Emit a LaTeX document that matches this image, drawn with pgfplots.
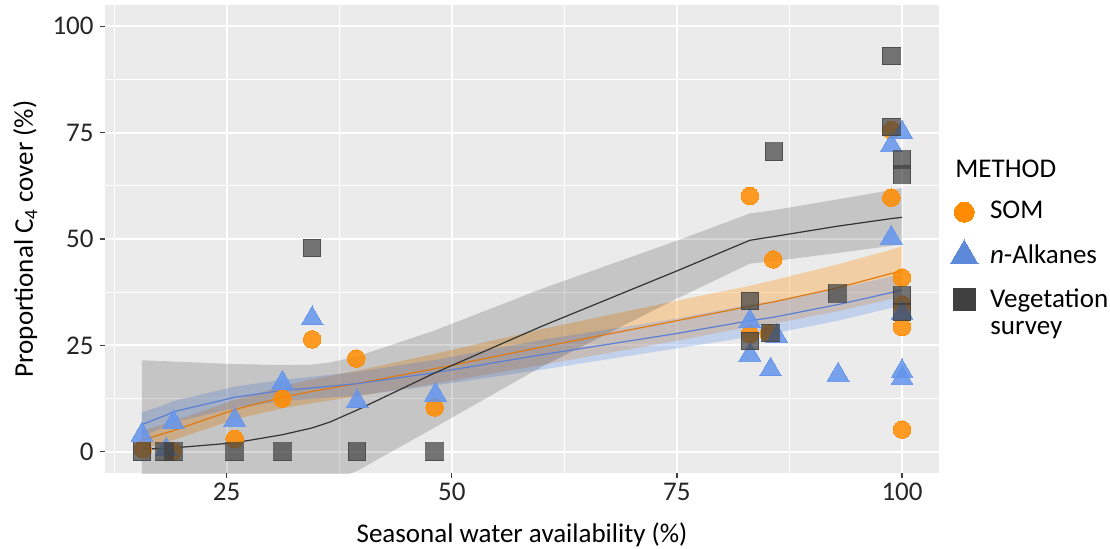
\documentclass[border=0pt]{standalone}
\usepackage{fontspec}
\setmainfont{Carlito}
\usepackage{pgfplots}
\pgfplotsset{compat=1.18}
\usepgfplotslibrary{fillbetween}
\definecolor{somC}{HTML}{FF8C00}
\definecolor{alkC}{HTML}{6495ED}
\definecolor{vegC}{HTML}{404040}
\definecolor{panel}{HTML}{EBEBEB}
\definecolor{somL}{HTML}{E07A10}
\definecolor{alkL}{HTML}{5A7FD6}
\definecolor{vegL}{HTML}{333333}

\pgfplotstableread{
x y
15.7 0.6
19.0 0.1
25.9 3.0
31.2 12.5
34.5 26.4
39.4 21.9
48.1 10.4
83.1 60.1
83.1 27.6
85.2 27.8
85.7 45.2
98.8 75.6
98.8 59.7
100 40.9
100 34.6
100 29.3
100 5.2
}\som
\pgfplotstableread{
x y
15.6 4.0
18.3 0.5
19.1 6.9
25.9 7.5
31.2 16.2
34.5 31.3
39.5 11.8
48.2 13.4
83.1 30.7
83.1 22.8
86.1 27.1
85.4 19.3
92.9 18.1
98.8 72.0
100 75.0
98.8 50.3
100 32.6
100 18.9
100 17.3
}\alk
\pgfplotstableread{
x y
15.6 0
18.1 0
19.1 0
25.9 0
31.2 0
34.5 47.9
39.5 0
48.1 0
83.1 35.4
83.1 26.0
85.4 27.9
85.8 70.5
92.8 37.2
98.8 93.0
98.8 76.3
100 68.7
100 65.2
100 36.7
100 32.8
}\veg
% smooth fits: x fit upper lower
\pgfplotstableread{
x fit up lo
15.6 0.6 21.5 -20
19.1 0.9 21.2 -18
25.9 2.1 20.6 -16
31.2 4.0 20.4 -12
34.5 5.6 20.5 -9
36.5 7.0 21.0 -7
39.5 9.8 22.4 -4.5
48.1 18.5 28.5 5.7
60 29.5 38.3 20.0
75 42.5 49.6 36.0
83.1 49.7 56.0 44.2
85.8 50.6 56.8 44.8
92.8 53.0 59.3 46.7
98.8 54.8 61.5 48.4
100 55.1 62.0 48.7
}\vegfit
\pgfplotstableread{
x fit up lo
15.7 2.8 4.9 0.7
19.0 4.9 7.1 2.7
25.9 9.9 12.2 7.6
31.2 12.8 15.4 10.2
34.5 14.2 17.0 11.4
39.4 16.0 19.0 13.0
48.1 19.5 23.0 16.0
60 24.6 28.8 20.4
75 30.8 35.5 26.1
83.1 34.2 39.0 29.4
85.7 35.2 40.3 30.1
92.8 38.5 44.0 33.0
98.8 41.9 47.5 35.9
100 42.4 48.3 36.5
}\somfit
\pgfplotstableread{
x fit up lo
15.6 6.4 9.2 3.6
18.3 8.6 11.2 6.0
19.1 9.4 11.9 6.9
25.9 12.8 15.3 10.3
31.2 14.4 16.9 11.9
34.5 15.0 17.6 12.4
39.5 16.0 18.8 13.2
48.2 18.6 21.6 15.6
60 22.8 26.3 19.3
75 27.8 31.3 24.3
83.1 30.8 34.6 27.0
85.7 31.6 35.4 27.8
92.9 34.6 38.4 30.8
98.8 37.4 41.2 33.8
100 38.1 41.8 34.4
}\alkfit

\begin{document}
\fontsize{13.5}{15.5}\selectfont
\begin{tikzpicture}[font=\fontsize{13.5}{15.5}\selectfont]
\begin{axis}[
  scale only axis, width=417pt, height=234pt,
  xmin=11.5, xmax=104.1, ymin=-5, ymax=105,
  axis background/.style={fill=panel},
  axis line style={draw=none},
  xtick={25,50,75,100}, ytick={0,25,50,75,100},
  minor xtick={12.5,37.5,62.5,87.5}, minor ytick={12.5,37.5,62.5,87.5},
  grid=both,
  major grid style={white, line width=1pt},
  minor grid style={white, line width=0.5pt},
  tick align=outside, major tick length=2.5pt, minor tick length=0pt,
  xtick pos=left, ytick pos=left,
  tick style={black!75, line width=0.6pt},
  /pgf/number format/assume math mode=true,
  xticklabel style={anchor=base, inner sep=0pt, yshift=-11pt, text=black!85},
  yticklabel style={anchor=east, inner sep=0pt, xshift=-3pt, text=black!85},
  legend cell align=left,
  legend style={draw=none, fill=none, at={(axis description cs:1,0.5)}, anchor=north west,
    xshift=5.5pt, yshift=21pt, inner sep=0pt, row sep=6.5pt, column sep=4pt,
    font=\fontsize{13.5}{15.5}\selectfont},
]
% points
\addplot[forget plot, only marks, mark=*, mark size=4.4pt, color=somC, mark options={line width=0pt, opacity=0.85}] table[x=x,y=y]{\som};
\addplot[forget plot, only marks, mark=triangle*, mark size=6.3pt, color=alkC, mark options={line width=0pt, opacity=0.85}] table[x=x,y=y]{\alk};
\addplot[forget plot, only marks, mark=square*, mark size=4.4pt, color=vegC, mark options={line width=0pt, opacity=0.7}] table[x=x,y=y]{\veg};
% ribbons and fits
\addplot[forget plot, draw=none, name path=su] table[x=x,y=up]{\somfit};
\addplot[forget plot, draw=none, name path=sl] table[x=x,y=lo]{\somfit};
\addplot[forget plot, fill=somC, fill opacity=0.3, draw=none] fill between[of=su and sl];
\addplot[forget plot, somL, line width=0.6pt] table[x=x,y=fit]{\somfit};
\addplot[forget plot, draw=none, name path=au] table[x=x,y=up]{\alkfit};
\addplot[forget plot, draw=none, name path=al] table[x=x,y=lo]{\alkfit};
\addplot[forget plot, fill=alkC, fill opacity=0.3, draw=none] fill between[of=au and al];
\addplot[forget plot, alkL, line width=0.6pt] table[x=x,y=fit]{\alkfit};
\addplot[forget plot, draw=none, name path=vu] table[x=x,y=up]{\vegfit};
\addplot[forget plot, draw=none, name path=vl] table[x=x,y=lo]{\vegfit};
\addplot[forget plot, fill=black, fill opacity=0.16, draw=none] fill between[of=vu and vl];
\addplot[forget plot, vegL, line width=0.6pt] table[x=x,y=fit]{\vegfit};
% legend
\addlegendimage{only marks, mark=*, mark size=5pt, color=somC, mark options={line width=0pt}}
\addlegendentry{SOM}
\addlegendimage{only marks, mark=triangle*, mark size=8pt, color=alkC!92!black, mark options={line width=0pt}}
\addlegendentry{\textit{n}-Alkanes}
\addlegendimage{only marks, mark=square*, mark size=5.5pt, color=vegC, mark options={line width=0pt}}
\addlegendentry{Vegetation}
\end{axis}
\node[rotate=90, anchor=base] at (-36pt,117pt) {Proportional C\textsubscript{4} cover (\%)};
\node[anchor=base] at (208.5pt,-34.5pt) {Seasonal water availability (\%)};
\node[anchor=base west, inner sep=0pt] at (425pt,148pt) {METHOD};
\node[anchor=base west, inner sep=0pt] at (442.5pt,69.5pt) {survey};
\pgfresetboundingbox
\path[use as bounding box] (-52.5pt,-37.5pt) rectangle (502.5pt,236.5pt);
\end{tikzpicture}
\end{document}
